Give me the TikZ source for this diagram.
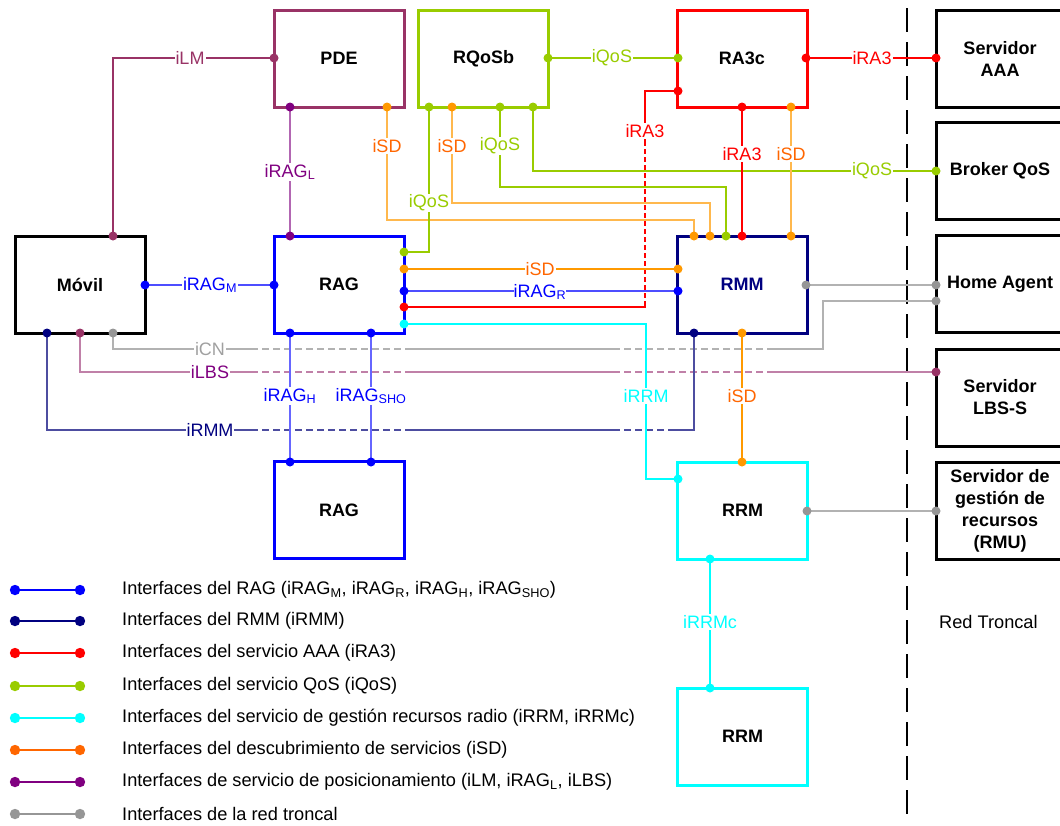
\documentclass[tikz,border=0pt]{standalone}
\usepackage{fontspec}
\setmainfont{Liberation Sans}
\definecolor{cPde}{HTML}{993366}
\definecolor{cPur}{HTML}{800080}
\definecolor{cPurL}{HTML}{B266B2}
\definecolor{cLbsL}{HTML}{C080A8}
\definecolor{cQos}{HTML}{99CC00}
\definecolor{cOr}{HTML}{FF9900}
\definecolor{cOrL}{HTML}{FFB84D}
\definecolor{cOrT}{HTML}{FF6600}
\definecolor{cBlue}{HTML}{0000FF}
\definecolor{cBlueL}{HTML}{4D4DFF}
\definecolor{cBlueLL}{HTML}{6666FF}
\definecolor{cNavy}{HTML}{000080}
\definecolor{cNavyL}{HTML}{4D4DA0}
\definecolor{cCyan}{HTML}{00FFFF}
\definecolor{cGray}{HTML}{969696}
\definecolor{cGrayL}{HTML}{B2B2B2}
\definecolor{cGrayT}{HTML}{A0A0A0}
\newcommand\pdot[2]{\fill[#1] (#2) circle[radius=4.5pt];}
\newcommand\ldot[2]{\fill[#1] (#2) circle[radius=5.2pt];}
\begin{document}
\begin{tikzpicture}[x=1pt,y=-1pt,
  box/.style={draw,line width=3pt,minimum width=130pt,minimum height=97pt,inner sep=0pt,align=center,font=\fontsize{18}{22}\selectfont\bfseries},
  srv/.style={box,draw=black,minimum width=128pt},
  conn/.style={line width=1.4pt},
  lbl/.style={fill=white,inner sep=1pt,font=\fontsize{18}{22}\selectfont},
  jumpgap/.style={draw=white,line width=2.8pt,dash pattern=on 4pt off 7pt},
  legtext/.style={anchor=west,inner sep=0pt,font=\fontsize{18.2}{22}\selectfont}]
\useasboundingbox (0,0) rectangle (1060,825);

% ---------- boxes ----------
\node[box,draw=cPde] (pde) at (339,58.5) {PDE};
\node[box,draw=cQos] (rqosb) at (483.5,58.5) {RQoSb};
\node[box,draw=red] (ra3c) at (742,58.5) {RA3c};
\node[srv] (aaa) at (1000,58.5) {Servidor\\AAA};
\node[srv] (broker) at (1000,171) {Broker QoS};
\node[srv] (ha) at (1000,284) {Home Agent};
\node[srv] (lbss) at (1000,397.5) {Servidor\\LBS-S};
\node[srv] (rmu) at (1000,510.5) {Servidor de\\gesti\'on de\\recursos\\(RMU)};
\node[box,draw=black] (movil) at (80,284.5) {M\'ovil};
\node[box,draw=cBlue] (rag) at (339,284.5) {RAG};
\node[box,draw=cNavy,text=cNavy] (rmm) at (742,284.5) {RMM};
\node[box,draw=cBlue] (rag2) at (339,510) {RAG};
\node[box,draw=cCyan] (rrm) at (742.5,510.5) {RRM};
\node[box,draw=cCyan] (rrm2) at (742.5,736.5) {RRM};

% ---------- ports ----------
\coordinate (movil-t) at (113,236);
\coordinate (movil-r) at (145,285);
\coordinate (movil-b1) at (47,333);
\coordinate (movil-b2) at (80,333);
\coordinate (movil-b3) at (113,333);
\coordinate (pde-l) at (274,58);
\coordinate (pde-b1) at (290,107);
\coordinate (pde-b2) at (387,107);
\coordinate (rq-r) at (548,58);
\coordinate (rq-b1) at (429,107);
\coordinate (rq-b2) at (452,107);
\coordinate (rq-b3) at (500,107);
\coordinate (rq-b4) at (533,107);
\coordinate (ra-l1) at (678,58);
\coordinate (ra-l2) at (678,91);
\coordinate (ra-r) at (806,58);
\coordinate (ra-b1) at (742,107);
\coordinate (ra-b2) at (791,107);
\coordinate (aaa-l) at (936,58);
\coordinate (bro-l) at (936,171);
\coordinate (ha-l1) at (936,285);
\coordinate (ha-l2) at (936,301);
\coordinate (lbs-l) at (936,372);
\coordinate (rmu-l) at (936,511);
\coordinate (rag-t) at (290,236);
\coordinate (rag-l) at (274,285);
\coordinate (rag-r1) at (404,252);
\coordinate (rag-r2) at (404,269);
\coordinate (rag-r3) at (404,291);
\coordinate (rag-r4) at (404,307);
\coordinate (rag-r5) at (404,324);
\coordinate (rag-b1) at (290,333);
\coordinate (rag-b2) at (371,333);
\coordinate (rmm-t1) at (694,236);
\coordinate (rmm-t2) at (710,236);
\coordinate (rmm-t3) at (726,236);
\coordinate (rmm-t4) at (742,236);
\coordinate (rmm-t5) at (791,236);
\coordinate (rmm-l1) at (678,269);
\coordinate (rmm-l2) at (678,291);
\coordinate (rmm-r) at (806,285);
\coordinate (rmm-b1) at (694,333);
\coordinate (rmm-b2) at (742,333);
\coordinate (rag2-t1) at (290,462);
\coordinate (rag2-t2) at (371,462);
\coordinate (rrm-l) at (678,479);
\coordinate (rrm-t) at (742,462);
\coordinate (rrm-r) at (807,511);
\coordinate (rrm-b) at (710,559);
\coordinate (rrm2-t) at (710,688);
\coordinate (icn-c) at (823,349);
\coordinate (irmm-c) at (694,430);

% ---------- divider ----------
\coordinate (divt) at (907,8);
\coordinate (divb) at (907,815);
\draw[line width=1.5pt,dash pattern=on 24pt off 10pt] (divt) -- (divb);

% ---------- connectors with jumps (drawn first) ----------
\draw[conn,red] (ra-l2) -- ++(-33,0) |- (rag-r4);
\draw[jumpgap,dash pattern=on 3pt off 5pt] (645,146) -- (645,305);
\draw[conn,cGrayL] (movil-b3) |- (icn-c) |- (ha-l2);
\draw[conn,cLbsL] (movil-b2) |- (lbs-l);
\draw[conn,cNavyL] (movil-b1) |- (irmm-c) -- (rmm-b1);
\foreach \yy in {349,372}{
  \draw[jumpgap] (258,\yy) -- (405,\yy);
  \draw[jumpgap] (620,\yy) -- (767,\yy);
}
\draw[jumpgap] (258,430) -- (405,430);
\draw[jumpgap] (620,430) -- (668,430);

% ---------- other connectors ----------
\draw[conn,cPde] (movil-t) |- (pde-l);
\draw[conn,cPurL] (pde-b1) -- (rag-t);
\draw[conn,cOrL] (pde-b2) -- ++(0,113) -| (rmm-t1);
\draw[conn,cQos] (rq-b1) |- (rag-r1);
\draw[conn,cOrL] (rq-b2) -- ++(0,96) -| (rmm-t2);
\draw[conn,cQos] (rq-b3) -- ++(0,80) -| (rmm-t3);
\draw[conn,cQos] (rq-b4) |- (bro-l);
\draw[conn,cQos] (rq-r) -- (ra-l1);
\draw[conn,red] (ra-r) -- (aaa-l);
\draw[conn,red] (ra-b1) -- (rmm-t4);
\draw[conn,cOrL] (ra-b2) -- (rmm-t5);
\draw[conn,cBlueL] (movil-r) -- (rag-l);
\draw[conn,cOr] (rag-r2) -- (rmm-l1);
\draw[conn,cBlueL] (rag-r3) -- (rmm-l2);
\draw[conn,cCyan] (rag-r5) -- ++(242,0) |- (rrm-l);
\draw[conn,cOr] (rmm-b2) -- (rrm-t);
\draw[conn,cGrayL] (rmm-r) -- (ha-l1);
\draw[conn,cBlueLL] (rag-b1) -- (rag2-t1);
\draw[conn,cBlueLL] (rag-b2) -- (rag2-t2);
\draw[conn,cGrayL] (rrm-r) -- (rmu-l);
\draw[conn,cCyan] (rrm-b) -- (rrm2-t);

% ---------- dots ----------
\pdot{cPde}{movil-t}
\pdot{cBlue}{movil-r}
\pdot{cNavy}{movil-b1}
\pdot{cPde}{movil-b2}
\pdot{cGray}{movil-b3}
\pdot{cPde}{pde-l}
\pdot{cPur}{pde-b1}
\pdot{cOr}{pde-b2}
\pdot{cQos}{rq-r}
\pdot{cQos}{rq-b1}
\pdot{cOr}{rq-b2}
\pdot{cQos}{rq-b3}
\pdot{cQos}{rq-b4}
\pdot{cQos}{ra-l1}
\pdot{red}{ra-l2}
\pdot{red}{ra-r}
\pdot{red}{ra-b1}
\pdot{cOr}{ra-b2}
\pdot{red}{aaa-l}
\pdot{cQos}{bro-l}
\pdot{cGray}{ha-l1}
\pdot{cGray}{ha-l2}
\pdot{cPde}{lbs-l}
\pdot{cGray}{rmu-l}
\pdot{cPur}{rag-t}
\pdot{cBlue}{rag-l}
\pdot{cQos}{rag-r1}
\pdot{cOr}{rag-r2}
\pdot{cBlue}{rag-r3}
\pdot{red}{rag-r4}
\pdot{cCyan}{rag-r5}
\pdot{cBlue}{rag-b1}
\pdot{cBlue}{rag-b2}
\pdot{cOr}{rmm-t1}
\pdot{cOr}{rmm-t2}
\pdot{cQos}{rmm-t3}
\pdot{red}{rmm-t4}
\pdot{cOr}{rmm-t5}
\pdot{cOr}{rmm-l1}
\pdot{cBlue}{rmm-l2}
\pdot{cGray}{rmm-r}
\pdot{cNavy}{rmm-b1}
\pdot{cOr}{rmm-b2}
\pdot{cBlue}{rag2-t1}
\pdot{cBlue}{rag2-t2}
\pdot{cCyan}{rrm-l}
\pdot{cOr}{rrm-t}
\pdot{cGray}{rrm-r}
\pdot{cCyan}{rrm-b}
\pdot{cCyan}{rrm2-t}

% ---------- connector labels ----------
\node[lbl,text=cPde] (l-ilm) at (190,58) {iLM};
\node[lbl,text=cPur] (l-iragl) at (290,172) {iRAG\textsubscript{L}};
\node[lbl,text=cOrT] (l-isd1) at (387,146) {iSD};
\node[lbl,text=cOrT] (l-isd2) at (452,146) {iSD};
\node[lbl,text=cQos] (l-iqos1) at (500,146) {iQoS};
\node[lbl,text=cQos] (l-iqos2) at (429,203) {iQoS};
\node[lbl,text=cQos] (l-iqos3) at (872,171) {iQoS};
\node[lbl,text=cQos] (l-iqos4) at (612,58) {iQoS};
\node[lbl,text=red] (l-ira1) at (645,131) {iRA3};
\node[lbl,text=red] (l-ira2) at (872,58) {iRA3};
\node[lbl,text=red] (l-ira3) at (742,154) {iRA3};
\node[lbl,text=cOrT] (l-isd3) at (791,154) {iSD};
\node[lbl,text=cBlue] (l-iragm) at (210,285) {iRAG\textsubscript{M}};
\node[lbl,text=cOrT] (l-isd4) at (540,269) {iSD};
\node[lbl,text=cBlue,inner sep=0pt] (l-iragr) at (540,292) {iRAG\textsubscript{R}};
\node[lbl,text=cCyan] (l-irrm) at (646,396) {iRRM};
\node[lbl,text=cOrT] (l-isd5) at (742,396) {iSD};
\node[lbl,text=cGrayT] (l-icn) at (210,349) {iCN};
\node[lbl,text=cPur] (l-ilbs) at (210,372) {iLBS};
\node[lbl,text=cNavy] (l-irmm) at (210,430) {iRMM};
\node[lbl,text=cBlue] (l-iragh) at (290,396) {iRAG\textsubscript{H}};
\node[lbl,text=cBlue] (l-iragsho) at (371,396) {iRAG\textsubscript{SHO}};
\node[lbl,text=cCyan] (l-irrmc) at (710,622) {iRRMc};
\node[legtext] (redtroncal) at (939,622) {Red Troncal};

% ---------- legend ----------
\foreach \yy/\cc/\tt [count=\i] in {
  590/cBlue/{Interfaces del RAG (iRAG\textsubscript{M}, iRAG\textsubscript{R}, iRAG\textsubscript{H}, iRAG\textsubscript{SHO})},
  621/cNavy/{Interfaces del RMM (iRMM)},
  653/red/{Interfaces del servicio AAA (iRA3)},
  686/cQos/{Interfaces del servicio QoS (iQoS)},
  718/cCyan/{Interfaces del servicio de gesti\'on recursos radio (iRRM, iRRMc)},
  750/cOrT/{Interfaces del descubrimiento de servicios (iSD)},
  782/cPur/{Interfaces de servicio de posicionamiento (iLM, iRAG\textsubscript{L}, iLBS)},
  814/cGray/{Interfaces de la red troncal}}{
  \coordinate (lg\i a) at (15,\yy);
  \coordinate (lg\i b) at (80,\yy);
  \draw[line width=1.8pt,\cc] (lg\i a) -- (lg\i b);
  \ldot{\cc}{lg\i a}
  \ldot{\cc}{lg\i b}
  \node[legtext] (lgt\i) at (122,\yy) {\tt};
}
\end{tikzpicture}
\end{document}
